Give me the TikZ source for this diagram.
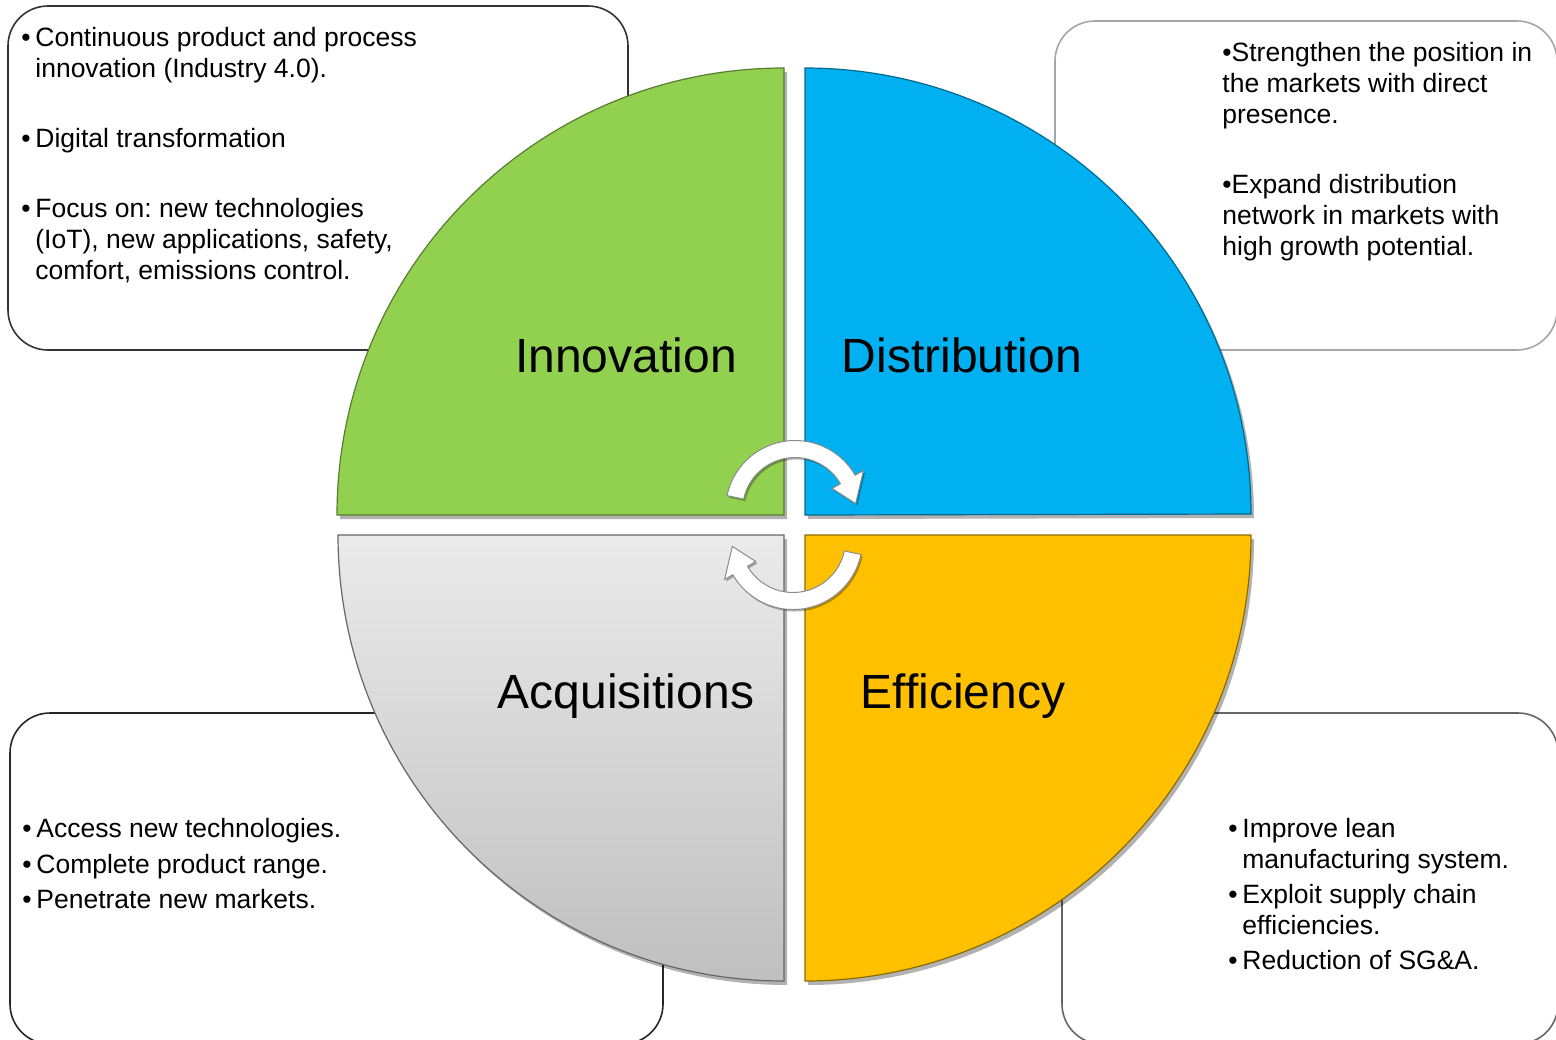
\documentclass[tikz,border=0pt]{standalone}
\usepackage{fontspec}
\setmainfont{Liberation Sans}
\usetikzlibrary{shadows}
\frenchspacing
\definecolor{qgreen}{HTML}{92D050}
\definecolor{qblue}{HTML}{00B0F0}
\definecolor{qorange}{HTML}{FFC000}
\newcommand\bul{\makebox[7pt][l]{\textbullet}}
\newcommand\ind{\hspace*{7pt}}
\tikzset{
  infobox/.style={rounded corners=20pt, line width=0.8pt, fill=white},
  quad/.style={line width=0.6pt, drop shadow={shadow xshift=1.5pt, shadow yshift=-2pt, opacity=0.3, fill=black}},
  biglabel/.style={font=\fontsize{24}{28}\selectfont, anchor=base, inner sep=0pt},
  bodytext/.style={font=\fontsize{13.25}{15.5}\selectfont, align=left, anchor=north west, inner sep=0pt},
  cycarrow/.style={fill=white, draw=black!45, line width=0.5pt, drop shadow={shadow xshift=0.8pt, shadow yshift=-1pt, opacity=0.3, fill=black}}
}
\begin{document}
\begin{tikzpicture}[x=0.5pt,y=-0.5pt]
\useasboundingbox (0,0) rectangle (1556,1039);
\clip (0,0) rectangle (1556,1039);
% boxes
\draw[infobox, draw=black!80] (8,6) rectangle (628,350);
\draw[infobox, draw=black!35] (1055,21) rectangle (1557,350);
\draw[infobox, draw=black!85] (10,713) rectangle (663,1044);
\draw[infobox, draw=black!60] (1062,713) rectangle (1558,1044);
% quadrants
\path[quad, fill=qgreen, draw=qgreen!60!black] (784,515) -- (337,515) arc[start angle=180, end angle=270, radius=447] -- cycle;
\path[quad, fill=qblue, draw=qblue!60!black] (805,515) -- (805,68) arc[start angle=270, end angle=360, radius=446] -- cycle;
\path[quad, top color=black!8, bottom color=black!25, draw=black!60] (784,535) -- (784,981) arc[start angle=90, end angle=180, radius=446] -- cycle;
\path[quad, fill=qorange, draw=qorange!55!black] (805,535) -- (1251,535) arc[start angle=0, end angle=90, radius=446] -- cycle;
% labels
\node[biglabel] (inn) at (626,372) {Innovation};
\node[biglabel] (dis) at (962,372) {Distribution};
\node[biglabel] (acq) at (626,708) {Acquisitions};
\node[biglabel] (eff) at (963,708) {Efficiency};
% cycle arrows
\begin{scope}[shift={(795,510)}]
\path[cycarrow] (-168:69.5) arc[start angle=-168, end angle=-30, radius=69.5]
  -- (-30:79) -- (-6:61) -- (-30:43) -- (-30:52.5)
  arc[start angle=-30, end angle=-168, radius=52.5] -- cycle;
\end{scope}
\begin{scope}[shift={(793,540)}, rotate=180]
\path[cycarrow] (-168:69.5) arc[start angle=-168, end angle=-30, radius=69.5]
  -- (-30:79) -- (-6:61) -- (-30:43) -- (-30:52.5)
  arc[start angle=-30, end angle=-168, radius=52.5] -- cycle;
\end{scope}
% texts
\node[bodytext] (tl) at (21,27) {\bul Continuous product and process\\
\ind innovation (Industry 4.0).\\[19.5pt]
\bul Digital transformation\\[19.5pt]
\bul Focus on: new technologies\\
\ind (IoT), new applications, safety,\\
\ind comfort, emissions control.};
\node[bodytext] (tr) at (1222,42) {\textbullet Strengthen the position in\\
the markets with direct\\
presence.\\[19.5pt]
\textbullet Expand distribution\\
network in markets with\\
high growth potential.};
\node[bodytext] (bl) at (22,818) {\bul Access new technologies.\\[2.25pt]
\bul Complete product range.\\[2.25pt]
\bul Penetrate new markets.};
\node[bodytext] (br) at (1228,818) {\bul Improve lean\\
\ind manufacturing system.\\[2pt]
\bul Exploit supply chain\\
\ind efficiencies.\\[2pt]
\bul Reduction of SG\&A.};
\end{tikzpicture}
\end{document}
